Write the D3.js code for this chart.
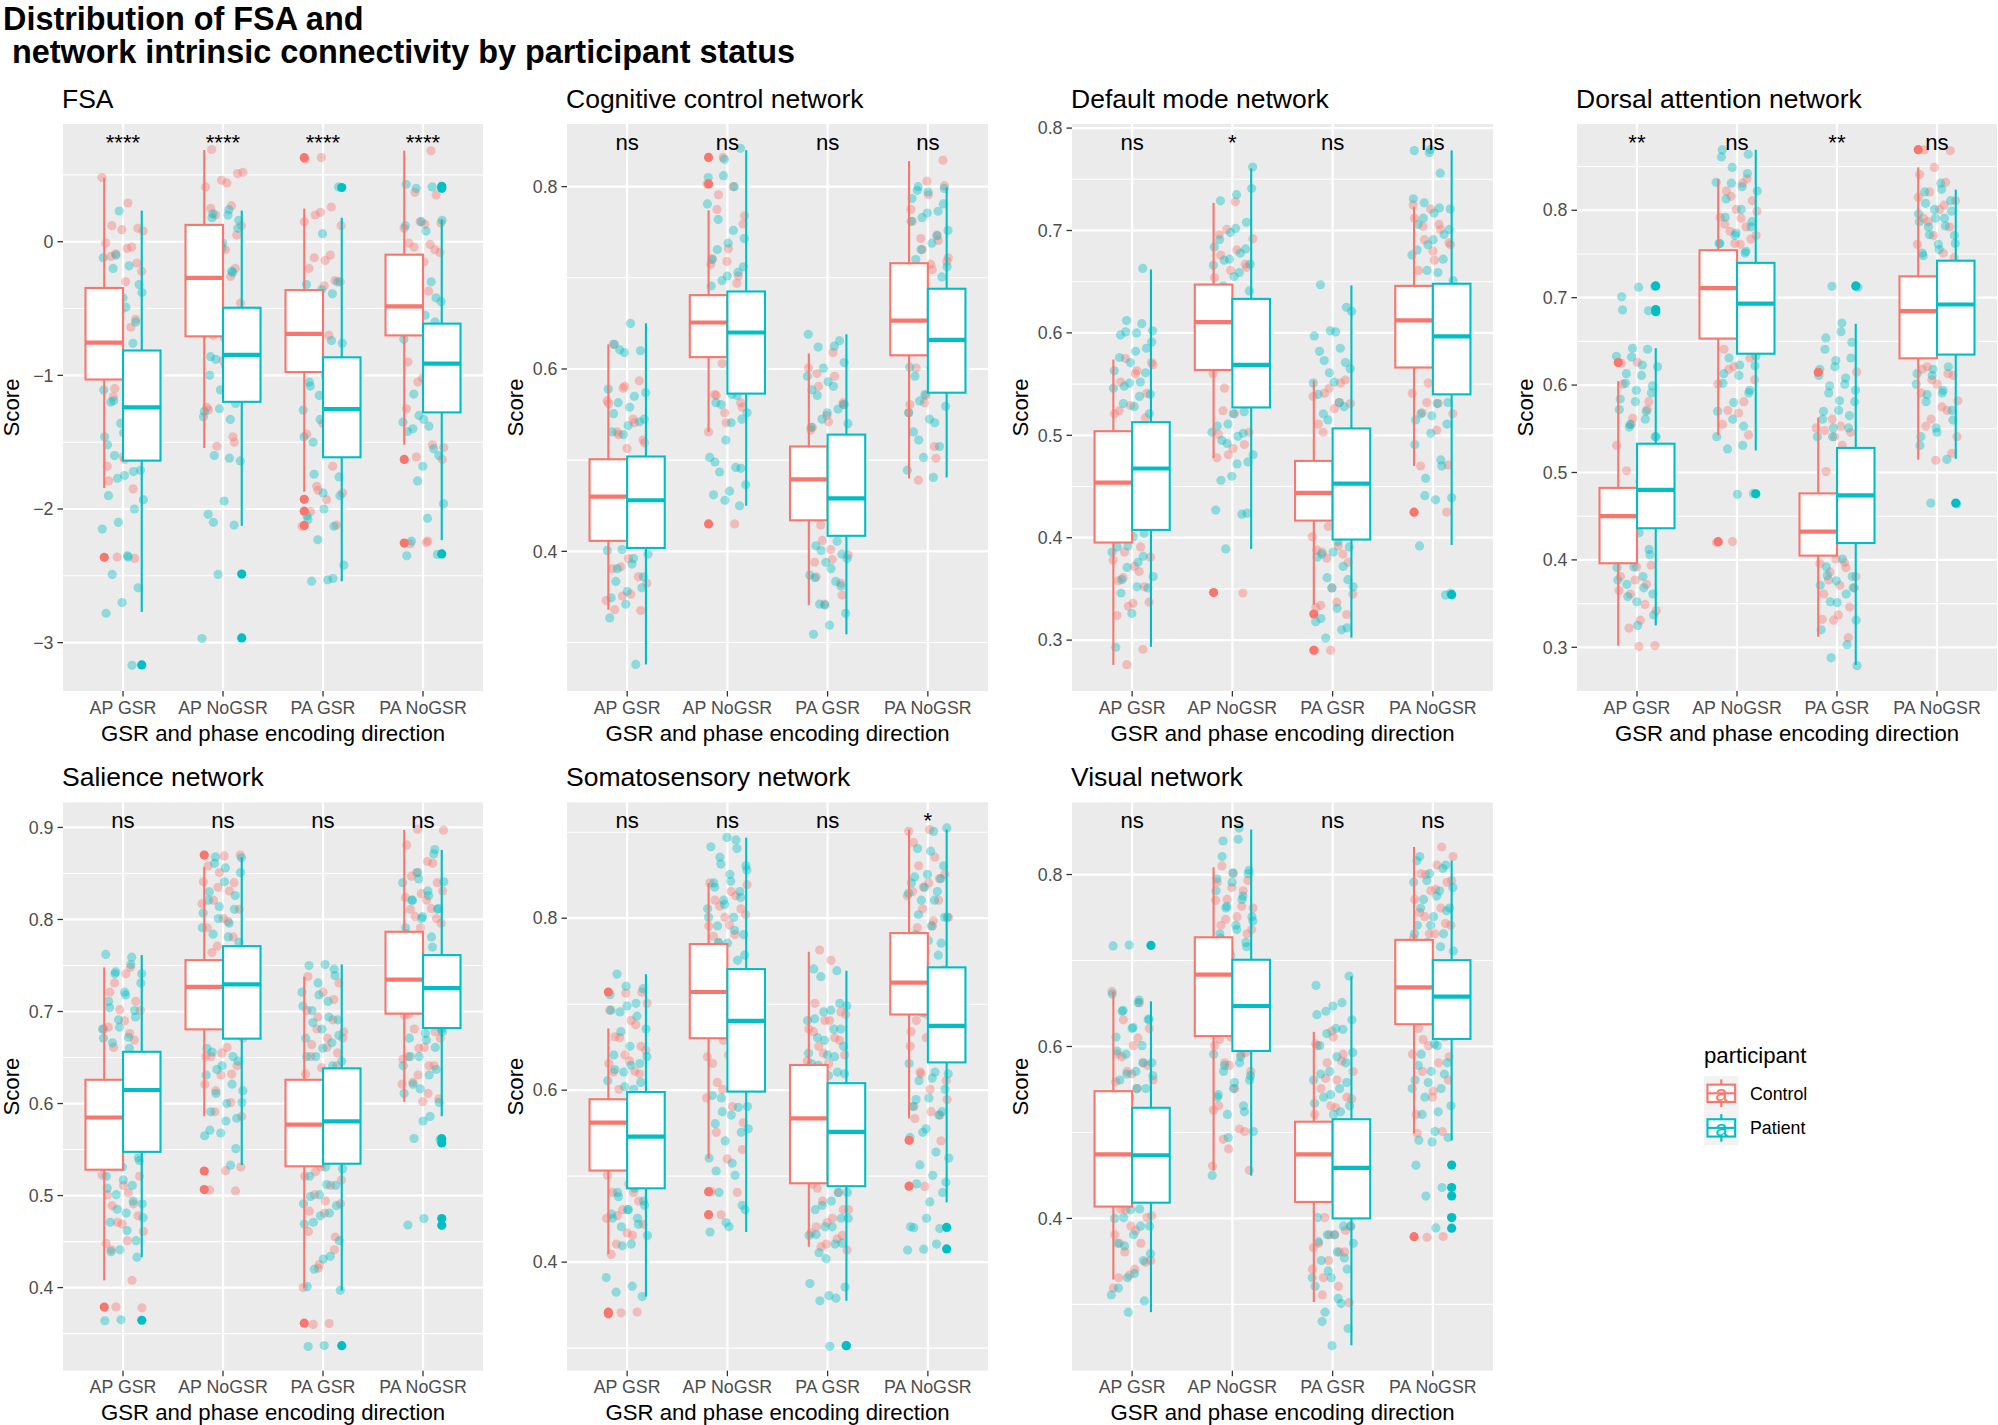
<!DOCTYPE html>
<html><head><meta charset="utf-8">
<script src="https://cdn.jsdelivr.net/npm/d3@7"></script>
<style>
body{margin:0;background:#fff;}
text{font-family:"Liberation Sans",Arial,Helvetica,sans-serif;}
</style>
</head><body>
<script>
// ---------------- DATA ----------------
const categories = ["AP GSR","AP NoGSR","PA GSR","PA NoGSR"];
const participants = ["Control","Patient"];
const participantColors = ["#F8766D","#00BFC4"];
const panelTitles = ["FSA","Cognitive control network","Default mode network","Dorsal attention network","Salience network","Somatosensory network","Visual network"];
const sigLabels = [
  ["****","****","****","****"],
  ["ns","ns","ns","ns"],
  ["ns","*","ns","ns"],
  ["**","ns","**","ns"],
  ["ns","ns","ns","ns"],
  ["ns","ns","ns","*"],
  ["ns","ns","ns","ns"]
];
const yTicks = [
  [-3,-2,-1,0],
  [0.4,0.6,0.8],
  [0.3,0.4,0.5,0.6,0.7,0.8],
  [0.3,0.4,0.5,0.6,0.7,0.8],
  [0.4,0.5,0.6,0.7,0.8,0.9],
  [0.4,0.6,0.8],
  [0.4,0.6,0.8]
];
const yDomains = [
  [-3.362,0.881],[0.2468,0.8687],[0.2503,0.804],[0.25,0.8987],
  [0.3097,0.9272],[0.2737,0.9347],[0.2229,0.8839]
];
const xTitle = "GSR and phase encoding direction";
const yTitle = "Score";
const legendTitle = "participant";
const chartTitle = ["Distribution of FSA and","network intrinsic connectivity by participant status"];

// Box stats: [lower whisker, Q1, median, Q3, upper whisker]
// order: APGSR-Control, APGSR-Patient, APNoGSR-C, APNoGSR-P, PAGSR-C, PAGSR-P, PANoGSR-C, PANoGSR-P
const fsaBox = [[-1.843,-1.031,-0.755,-0.346,0.478],[-2.77,-1.638,-1.239,-0.814,0.233],[-1.544,-0.708,-0.27,0.126,0.686],[-2.126,-1.198,-0.846,-0.494,0.233],[-1.871,-0.975,-0.689,-0.362,0.248],[-2.541,-1.613,-1.252,-0.865,0.179],[-1.519,-0.701,-0.484,-0.097,0.682],[-2.233,-1.277,-0.912,-0.613,0.164]];
const ccnBox = [[0.336,0.4115,0.46,0.501,0.627],[0.276,0.4037,0.456,0.504,0.65],[0.531,0.613,0.651,0.681,0.774],[0.45,0.573,0.64,0.685,0.84],[0.341,0.434,0.479,0.515,0.617],[0.309,0.417,0.458,0.528,0.638],[0.48,0.615,0.653,0.716,0.828],[0.481,0.574,0.632,0.688,0.799]];
const dmnBox = [[0.2758,0.3953,0.4537,0.504,0.574],[0.2934,0.4076,0.4676,0.5128,0.662],[0.478,0.5638,0.6106,0.6472,0.7269],[0.3891,0.5272,0.5687,0.6332,0.7606],[0.3345,0.4167,0.4438,0.475,0.5535],[0.3024,0.3982,0.4528,0.5067,0.6463],[0.4701,0.5662,0.6122,0.6459,0.7232],[0.3928,0.54,0.5966,0.648,0.7782]];
const danBox = [[0.3019,0.3962,0.4501,0.4824,0.6046],[0.325,0.4362,0.48,0.5329,0.6422],[0.5425,0.6532,0.711,0.7543,0.8356],[0.5252,0.6359,0.6932,0.7398,0.8693],[0.312,0.4049,0.4323,0.4761,0.5628],[0.2798,0.4193,0.4737,0.5281,0.6701],[0.5146,0.6306,0.6845,0.7244,0.8491],[0.5156,0.6349,0.6922,0.7423,0.8236]];
const salBox = [[0.4078,0.5281,0.5848,0.6258,0.7479],[0.4332,0.5475,0.6147,0.6562,0.7613],[0.5862,0.6806,0.7267,0.7558,0.8571],[0.5332,0.6705,0.7295,0.771,0.8673],[0.40,0.5318,0.577,0.6258,0.7378],[0.3968,0.5346,0.5807,0.6382,0.7512],[0.6018,0.6977,0.7346,0.7866,0.8972],[0.5862,0.682,0.7253,0.7613,0.8756]];
const smnBox = [[0.4094,0.5065,0.5623,0.5894,0.6718],[0.36,0.4858,0.546,0.5978,0.7349],[0.5203,0.6604,0.7142,0.7699,0.8409],[0.435,0.5983,0.6806,0.7408,0.8937],[0.4178,0.4917,0.5672,0.6293,0.761],[0.3551,0.4883,0.5514,0.6081,0.7388],[0.5672,0.688,0.725,0.7827,0.9031],[0.4695,0.6323,0.6747,0.7428,0.9031]];
const visBox = [[0.329,0.4138,0.4745,0.548,0.6634],[0.291,0.4183,0.4735,0.5287,0.6525],[0.4557,0.6121,0.6836,0.727,0.8084],[0.4498,0.5948,0.6471,0.7009,0.8523],[0.3028,0.4192,0.4745,0.5125,0.617],[0.2525,0.40,0.4587,0.5154,0.6816],[0.4991,0.6259,0.6688,0.724,0.8321],[0.4907,0.6088,0.658,0.7004,0.8163]];

// Outliers (solid points)
const fsaOut = [[-2.362],[-3.167],[],[-2.487,-2.965],[0.629,-1.928,-2.016,-2.123],[0.406],[-1.629,-2.255],[0.415,0.40,-2.336]];
const ccnOut = [[],[],[0.832,0.803,0.43],[],[],[],[],[]];
const dmnOut = [[],[],[0.3464],[],[0.3255,0.2901],[],[0.4249],[0.3444]];
const danOut = [[0.6258],[0.7134,0.6864,0.684],[0.4208],[0.4756],[0.6147],[0.7134],[0.8693],[0.4651]];
const salOut = [[0.3788],[0.3645],[0.87,0.5267,0.5065],[],[0.3613],[0.3369],[],[0.5618,0.5571,0.4751,0.4677]];
const smnOut = [[0.7142,0.3418,0.3398],[],[0.4819,0.4552],[],[],[0.3028],[0.5416,0.4883],[0.4404,0.4153]];
const visOut = [[],[0.7176],[],[],[],[],[0.3788],[0.4621,0.436,0.4261,0.401,0.3887]];

// Individual scores (jittered, semi-transparent)
const fsaPts = [
 [0.48,0.29,0.12,0.1,0.09,-0.01,-0.04,-0.09,-0.22,-0.3,-0.45,-0.58,-0.69,-0.76,-0.9,-1.16,-1.35,-1.61,-1.68,-1.85,-2.36,0.08,-0.05,-0.11,-0.16,-0.52,-0.61,-0.64,-1.1,-1.14,-1.63,-1.79,-2.37],
 [0.23,-0.12,-0.18,-0.2,-0.32,-0.42,-0.58,-0.76,-0.83,-0.95,-1.08,-1.2,-1.26,-1.36,-1.46,-1.5,-1.6,-1.71,-1.75,-1.9,-2.0,-2.1,-2.15,-2.36,-2.49,-2.59,-2.7,-2.78,-3.17,-0.1,-0.38,-0.49,-0.56,-0.6,-0.63,-1.11,-1.16,-1.19,-1.23,-1.43,-1.52,-1.72,-1.77,-1.93,-2.35],
 [0.69,0.51,0.46,0.41,0.27,0.2,0.12,-0.06,-0.07,-0.2,-0.36,-0.42,-0.55,-0.7,-0.76,-0.89,-1.24,-1.46,-1.53,0.52,0.44,0.25,0.05,-0.02,-0.1,-0.26,-0.4,-0.46,-0.72,-1.26,-1.5],
 [0.24,0.21,0.16,-0.01,-0.14,-0.23,-0.39,-0.6,-0.73,-0.86,-0.95,-1.11,-1.27,-1.33,-1.6,-1.64,-1.94,-2.04,-2.12,-2.49,-2.97,0.2,0.18,0.1,-0.05,-0.19,-0.22,-0.88,-0.9,-0.93,-1.0,-1.21,-1.25,-1.31,-1.62,-2.1],
 [0.63,0.62,0.26,0.2,0.12,-0.14,-0.2,-0.29,-0.42,-0.55,-0.7,-0.8,-1.0,-1.36,-1.44,-1.68,-1.83,-1.88,-1.93,-2.02,-2.12,0.22,0.15,-0.1,-0.12,-0.3,-0.33,-0.45,-1.42,-1.86,-2.13],
 [0.41,0.06,-0.32,-0.39,-0.61,-0.76,-0.95,-1.08,-1.2,-1.33,-1.46,-1.55,-1.74,-1.9,-2.0,-2.08,-2.13,-2.23,-2.42,-2.53,-2.54,-0.3,-0.36,-0.41,-0.74,-0.8,-0.9,-1.0,-1.05,-1.1,-1.15,-1.26,-1.45,-1.5,-1.76,-1.88,-2.05,-2.52],
 [0.68,0.37,0.14,0.13,-0.01,-0.06,-0.12,-0.23,-0.37,-0.5,-0.91,-1.02,-1.25,-1.52,-1.61,-1.63,-2.25,-2.26,0.35,0.15,0.1,-0.02,-0.04,-0.08,-0.15,-0.9,-1.0,-1.05,-1.54,-2.24],
 [0.43,0.41,0.4,0.16,0.08,-0.29,-0.42,-0.64,-0.73,-0.83,-1.14,-1.2,-1.33,-1.42,-1.55,-1.79,-1.96,-2.07,-2.24,-2.34,0.15,0.12,-0.3,-0.35,-0.45,-0.55,-0.58,-0.6,-1.3,-1.35,-1.38,-1.4,-1.6,-1.68,-2.35]
];
const ccnPts = [
 [0.627,0.587,0.579,0.565,0.545,0.531,0.522,0.513,0.47,0.434,0.383,0.365,0.353,0.336,0.335,0.581,0.562,0.541,0.528,0.519,0.392,0.381,0.372,0.351,0.346],
 [0.65,0.627,0.62,0.618,0.578,0.57,0.563,0.545,0.538,0.531,0.5,0.402,0.397,0.386,0.367,0.36,0.342,0.327,0.276,0.621,0.574,0.558,0.551,0.542,0.528,0.401,0.392,0.381,0.372,0.356,0.349],
 [0.832,0.803,0.8,0.775,0.759,0.718,0.715,0.694,0.66,0.609,0.595,0.572,0.563,0.552,0.531,0.43,0.791,0.768,0.732,0.721,0.702,0.606,0.601,0.585,0.571,0.558,0.541],
 [0.842,0.83,0.81,0.8,0.764,0.743,0.738,0.72,0.706,0.697,0.62,0.572,0.563,0.545,0.522,0.503,0.492,0.487,0.473,0.466,0.462,0.45,0.812,0.781,0.752,0.731,0.712,0.702,0.691,0.571,0.561,0.552,0.541,0.498,0.491,0.456],
 [0.618,0.595,0.563,0.549,0.533,0.48,0.429,0.425,0.402,0.388,0.365,0.342,0.601,0.592,0.581,0.561,0.542,0.536,0.421,0.412,0.396,0.391,0.372,0.352],
 [0.638,0.625,0.624,0.607,0.586,0.577,0.556,0.545,0.54,0.47,0.406,0.397,0.388,0.374,0.367,0.342,0.332,0.319,0.309,0.631,0.601,0.592,0.581,0.571,0.561,0.552,0.536,0.411,0.401,0.392,0.381,0.371,0.362,0.341],
 [0.829,0.806,0.775,0.747,0.743,0.718,0.715,0.68,0.614,0.563,0.552,0.515,0.478,0.801,0.791,0.762,0.741,0.731,0.722,0.709,0.601,0.592,0.571,0.561,0.502],
 [0.8,0.798,0.794,0.787,0.773,0.766,0.752,0.738,0.72,0.701,0.65,0.602,0.595,0.565,0.559,0.545,0.531,0.515,0.503,0.489,0.481,0.796,0.781,0.771,0.762,0.746,0.731,0.712,0.601,0.592,0.581,0.572,0.552,0.541,0.522]
];
const dmnPts = [
 [0.575,0.571,0.56,0.524,0.517,0.45,0.378,0.367,0.361,0.337,0.336,0.324,0.291,0.276,0.569,0.563,0.552,0.541,0.529,0.521,0.391,0.386,0.381,0.372,0.358,0.352,0.333],
 [0.663,0.612,0.602,0.6,0.598,0.585,0.571,0.563,0.552,0.548,0.54,0.528,0.46,0.404,0.392,0.386,0.376,0.359,0.351,0.326,0.293,0.609,0.601,0.591,0.582,0.576,0.561,0.551,0.546,0.538,0.531,0.521,0.401,0.391,0.382,0.371,0.362,0.352,0.346],
 [0.728,0.696,0.667,0.62,0.56,0.54,0.524,0.503,0.487,0.478,0.346,0.701,0.692,0.681,0.676,0.664,0.661,0.654,0.551,0.546,0.531,0.521,0.501,0.491,0.481],
 [0.762,0.735,0.729,0.708,0.698,0.684,0.678,0.671,0.667,0.655,0.6,0.523,0.511,0.503,0.499,0.495,0.474,0.46,0.427,0.423,0.389,0.741,0.702,0.691,0.682,0.672,0.666,0.659,0.646,0.641,0.521,0.509,0.502,0.492,0.481,0.472,0.456,0.424],
 [0.554,0.546,0.538,0.532,0.503,0.487,0.44,0.388,0.384,0.38,0.345,0.337,0.334,0.325,0.29,0.29,0.551,0.541,0.531,0.526,0.511,0.501,0.411,0.401,0.392,0.386,0.376,0.351,0.332],
 [0.647,0.625,0.602,0.597,0.585,0.573,0.565,0.552,0.54,0.528,0.515,0.45,0.396,0.384,0.359,0.351,0.318,0.31,0.302,0.621,0.601,0.582,0.571,0.561,0.551,0.532,0.521,0.391,0.386,0.381,0.372,0.361,0.352,0.331,0.321,0.312],
 [0.725,0.706,0.704,0.688,0.68,0.6,0.548,0.532,0.521,0.505,0.47,0.425,0.721,0.712,0.701,0.691,0.686,0.671,0.661,0.561,0.551,0.541,0.531,0.522,0.471],
 [0.779,0.778,0.756,0.727,0.721,0.717,0.706,0.696,0.686,0.676,0.659,0.6,0.532,0.519,0.515,0.47,0.458,0.439,0.437,0.392,0.344,0.776,0.731,0.722,0.712,0.701,0.691,0.681,0.672,0.661,0.651,0.531,0.521,0.511,0.502,0.491,0.476,0.441,0.346]
];
const danPts = [
 [0.626,0.625,0.572,0.555,0.517,0.45,0.406,0.394,0.377,0.365,0.349,0.322,0.302,0.301,0.601,0.581,0.562,0.531,0.521,0.502,0.491,0.392,0.381,0.372,0.361,0.342,0.331],
 [0.713,0.712,0.686,0.685,0.642,0.633,0.623,0.613,0.599,0.594,0.584,0.57,0.555,0.541,0.49,0.421,0.406,0.392,0.377,0.368,0.358,0.337,0.325,0.701,0.641,0.632,0.621,0.611,0.602,0.591,0.581,0.572,0.561,0.552,0.541,0.431,0.421,0.412,0.401,0.391,0.381,0.372,0.361,0.352],
 [0.836,0.816,0.799,0.791,0.784,0.767,0.762,0.7,0.647,0.618,0.606,0.568,0.555,0.543,0.421,0.42,0.831,0.822,0.811,0.801,0.792,0.781,0.776,0.771,0.761,0.641,0.631,0.621,0.601,0.581,0.571],
 [0.869,0.864,0.849,0.832,0.827,0.813,0.787,0.774,0.762,0.753,0.69,0.633,0.623,0.613,0.594,0.58,0.57,0.553,0.527,0.476,0.475,0.861,0.842,0.831,0.822,0.801,0.792,0.781,0.771,0.762,0.751,0.631,0.622,0.611,0.602,0.591,0.561,0.541,0.531],
 [0.615,0.553,0.548,0.546,0.541,0.45,0.397,0.377,0.368,0.337,0.332,0.311,0.561,0.551,0.531,0.501,0.491,0.401,0.396,0.391,0.386,0.381,0.371,0.361,0.346,0.331],
 [0.713,0.712,0.671,0.654,0.649,0.628,0.618,0.608,0.599,0.594,0.582,0.57,0.565,0.551,0.541,0.47,0.382,0.368,0.351,0.32,0.303,0.288,0.279,0.661,0.641,0.631,0.621,0.611,0.601,0.591,0.581,0.571,0.561,0.551,0.541,0.411,0.401,0.392,0.381,0.376,0.371,0.361,0.352,0.331],
 [0.869,0.868,0.849,0.815,0.806,0.787,0.746,0.68,0.618,0.613,0.606,0.582,0.575,0.553,0.522,0.514,0.841,0.832,0.821,0.811,0.801,0.791,0.781,0.771,0.761,0.751,0.621,0.611,0.601,0.591,0.571,0.561,0.541],
 [0.824,0.808,0.799,0.791,0.787,0.782,0.772,0.762,0.755,0.748,0.69,0.618,0.613,0.594,0.589,0.56,0.546,0.541,0.515,0.465,0.464,0.831,0.821,0.811,0.801,0.796,0.791,0.781,0.771,0.761,0.751,0.621,0.611,0.601,0.591,0.581,0.571,0.551,0.531]
];
const salPts = [
 [0.748,0.731,0.701,0.69,0.683,0.669,0.6,0.522,0.503,0.489,0.478,0.469,0.448,0.408,0.379,0.378,0.741,0.721,0.711,0.702,0.681,0.676,0.661,0.521,0.511,0.501,0.491,0.471,0.461,0.451,0.441],
 [0.762,0.759,0.743,0.741,0.718,0.704,0.694,0.683,0.671,0.66,0.6,0.538,0.517,0.508,0.494,0.485,0.476,0.462,0.439,0.433,0.365,0.364,0.751,0.741,0.731,0.721,0.711,0.701,0.691,0.681,0.672,0.666,0.541,0.531,0.521,0.511,0.501,0.491,0.481,0.471,0.451,0.441],
 [0.87,0.869,0.858,0.84,0.835,0.817,0.798,0.764,0.7,0.655,0.651,0.632,0.614,0.586,0.527,0.506,0.505,0.851,0.841,0.831,0.821,0.811,0.801,0.791,0.781,0.771,0.671,0.661,0.651,0.641,0.631,0.621,0.601,0.591,0.531],
 [0.868,0.867,0.856,0.83,0.826,0.814,0.807,0.796,0.784,0.775,0.7,0.66,0.651,0.637,0.614,0.6,0.591,0.584,0.568,0.565,0.533,0.861,0.851,0.841,0.821,0.811,0.801,0.791,0.781,0.656,0.646,0.641,0.631,0.621,0.611,0.601,0.581,0.571,0.551],
 [0.738,0.713,0.694,0.678,0.671,0.664,0.655,0.639,0.632,0.58,0.526,0.517,0.494,0.483,0.455,0.425,0.4,0.361,0.36,0.731,0.721,0.701,0.691,0.681,0.671,0.661,0.651,0.641,0.531,0.521,0.511,0.501,0.491,0.481,0.461,0.441,0.421],
 [0.751,0.75,0.739,0.718,0.706,0.694,0.688,0.674,0.66,0.651,0.641,0.58,0.529,0.512,0.499,0.489,0.478,0.469,0.434,0.42,0.397,0.337,0.336,0.746,0.731,0.721,0.711,0.701,0.691,0.681,0.671,0.666,0.651,0.646,0.531,0.521,0.511,0.501,0.491,0.481,0.471,0.451,0.431,0.401],
 [0.898,0.897,0.863,0.847,0.84,0.828,0.824,0.812,0.803,0.796,0.74,0.697,0.678,0.66,0.648,0.641,0.623,0.605,0.602,0.881,0.861,0.851,0.831,0.821,0.811,0.801,0.791,0.696,0.691,0.681,0.671,0.661,0.651,0.641,0.631,0.621,0.611],
 [0.876,0.844,0.84,0.826,0.821,0.812,0.803,0.784,0.77,0.72,0.678,0.669,0.651,0.637,0.616,0.611,0.586,0.562,0.561,0.475,0.468,0.871,0.851,0.841,0.831,0.821,0.811,0.801,0.791,0.781,0.771,0.681,0.676,0.671,0.661,0.651,0.641,0.631,0.621,0.601,0.581]
];
const smnPts = [
 [0.714,0.713,0.693,0.676,0.661,0.646,0.634,0.621,0.619,0.56,0.501,0.481,0.454,0.444,0.434,0.409,0.342,0.341,0.701,0.681,0.662,0.651,0.641,0.631,0.622,0.601,0.502,0.491,0.481,0.471,0.461,0.451,0.431,0.421],
 [0.735,0.718,0.698,0.693,0.686,0.668,0.639,0.629,0.624,0.609,0.604,0.55,0.486,0.476,0.466,0.461,0.451,0.444,0.419,0.382,0.372,0.365,0.36,0.721,0.711,0.701,0.691,0.671,0.651,0.641,0.631,0.621,0.611,0.601,0.481,0.471,0.461,0.456,0.451,0.441,0.431,0.421],
 [0.841,0.826,0.814,0.804,0.792,0.779,0.72,0.658,0.639,0.621,0.609,0.562,0.52,0.482,0.481,0.455,0.839,0.831,0.821,0.811,0.801,0.791,0.781,0.771,0.651,0.641,0.631,0.621,0.601,0.591,0.581,0.551,0.531],
 [0.894,0.883,0.881,0.863,0.856,0.843,0.836,0.824,0.816,0.801,0.786,0.772,0.757,0.68,0.594,0.58,0.575,0.555,0.515,0.506,0.466,0.446,0.435,0.891,0.871,0.861,0.851,0.841,0.831,0.821,0.811,0.801,0.791,0.781,0.771,0.761,0.751,0.591,0.581,0.571,0.561,0.551,0.541,0.521,0.501,0.481,0.461,0.441],
 [0.763,0.688,0.681,0.668,0.658,0.643,0.634,0.57,0.486,0.461,0.446,0.434,0.427,0.418,0.414,0.751,0.701,0.691,0.681,0.671,0.661,0.651,0.641,0.631,0.491,0.481,0.471,0.461,0.451,0.441,0.431,0.421],
 [0.739,0.732,0.698,0.693,0.683,0.671,0.658,0.643,0.639,0.629,0.619,0.617,0.55,0.481,0.466,0.451,0.441,0.432,0.422,0.404,0.375,0.358,0.355,0.303,0.302,0.741,0.701,0.691,0.681,0.671,0.661,0.651,0.641,0.631,0.621,0.611,0.481,0.471,0.461,0.451,0.441,0.431,0.421,0.411,0.371,0.361],
 [0.903,0.888,0.846,0.836,0.826,0.797,0.789,0.74,0.688,0.668,0.639,0.619,0.589,0.575,0.567,0.541,0.488,0.901,0.871,0.861,0.851,0.841,0.831,0.821,0.811,0.801,0.791,0.681,0.671,0.661,0.651,0.641,0.621,0.611,0.601,0.581,0.571],
 [0.905,0.878,0.848,0.846,0.836,0.829,0.821,0.804,0.801,0.774,0.764,0.757,0.69,0.619,0.614,0.589,0.575,0.555,0.545,0.528,0.513,0.493,0.47,0.44,0.439,0.415,0.414,0.901,0.881,0.861,0.851,0.841,0.831,0.821,0.801,0.791,0.781,0.771,0.761,0.631,0.621,0.611,0.601,0.591,0.581,0.571,0.551,0.521,0.501,0.491,0.481,0.451,0.441,0.421]
];
const visPts = [
 [0.664,0.61,0.588,0.578,0.568,0.559,0.48,0.41,0.403,0.386,0.371,0.349,0.334,0.319,0.651,0.631,0.621,0.601,0.591,0.581,0.571,0.561,0.551,0.411,0.401,0.391,0.381,0.371,0.361,0.351,0.341,0.331],
 [0.718,0.717,0.654,0.642,0.632,0.622,0.595,0.581,0.568,0.566,0.551,0.539,0.47,0.41,0.4,0.391,0.368,0.359,0.336,0.319,0.304,0.291,0.661,0.651,0.641,0.631,0.621,0.611,0.601,0.591,0.581,0.571,0.561,0.551,0.541,0.531,0.411,0.401,0.391,0.381,0.371,0.351,0.331,0.311],
 [0.81,0.793,0.785,0.77,0.763,0.748,0.736,0.68,0.608,0.593,0.578,0.526,0.504,0.492,0.456,0.801,0.791,0.781,0.771,0.761,0.751,0.741,0.731,0.611,0.601,0.591,0.581,0.571,0.551,0.531,0.501,0.481,0.461],
 [0.854,0.839,0.805,0.802,0.795,0.775,0.763,0.746,0.736,0.726,0.716,0.706,0.65,0.588,0.578,0.566,0.558,0.544,0.524,0.494,0.45,0.841,0.821,0.801,0.791,0.781,0.771,0.761,0.751,0.741,0.731,0.721,0.711,0.591,0.581,0.571,0.561,0.551,0.541,0.531,0.521,0.501],
 [0.618,0.603,0.583,0.563,0.539,0.529,0.47,0.386,0.381,0.366,0.361,0.331,0.302,0.611,0.601,0.591,0.581,0.571,0.561,0.551,0.541,0.531,0.521,0.411,0.401,0.391,0.381,0.371,0.361,0.351,0.341,0.321,0.311],
 [0.682,0.647,0.637,0.62,0.615,0.593,0.588,0.568,0.558,0.544,0.534,0.524,0.46,0.391,0.381,0.373,0.354,0.339,0.331,0.307,0.28,0.272,0.252,0.671,0.651,0.641,0.631,0.621,0.601,0.581,0.571,0.561,0.551,0.541,0.531,0.521,0.401,0.391,0.381,0.371,0.361,0.351,0.341,0.331,0.321,0.301,0.291],
 [0.832,0.8,0.793,0.783,0.756,0.743,0.731,0.726,0.67,0.608,0.588,0.548,0.499,0.379,0.378,0.821,0.811,0.801,0.791,0.781,0.771,0.761,0.751,0.741,0.731,0.621,0.611,0.601,0.591,0.581,0.571,0.561,0.541,0.521,0.501],
 [0.816,0.807,0.793,0.785,0.775,0.761,0.758,0.741,0.731,0.716,0.701,0.66,0.603,0.578,0.568,0.558,0.551,0.524,0.521,0.494,0.489,0.462,0.436,0.426,0.401,0.389,0.821,0.811,0.801,0.791,0.781,0.771,0.761,0.751,0.741,0.731,0.721,0.711,0.601,0.591,0.581,0.571,0.561,0.551,0.541,0.531,0.501,0.491]
];

// ---------------- DRAWING ----------------
const boxSets = [fsaBox,ccnBox,dmnBox,danBox,salBox,smnBox,visBox];
const outSets = [fsaOut,ccnOut,dmnOut,danOut,salOut,smnOut,visOut];
const ptSets = [fsaPts,ccnPts,dmnPts,danPts,salPts,smnPts,visPts];

const W = 1998, H = 1425;
const svg = d3.select("body").append("svg").attr("width", W).attr("height", H);
svg.append("rect").attr("width", W).attr("height", H).attr("fill", "#ffffff");

const colX = [[63,483],[567,988],[1072,1493],[1577,1997]];
const rowY = [[124,691],[802.4,1370.7]];
const frames = panelTitles.map((t,i)=>{
  const c = colX[i % 4], r = rowY[Math.floor(i/4)];
  return {x0:c[0], x1:c[1], y0:r[0], y1:r[1]};
});

const FS_TICK = 17.8, FS_TITLE = 22.2, FS_STRIP = 26.5;

panelTitles.forEach((title, pi) => {
  const f = frames[pi];
  const g = svg.append("g");
  const x = d3.scalePoint().domain(categories).range([f.x0, f.x1]).padding(0.6);
  const step = x.step();
  const y = d3.scaleLinear().domain(yDomains[pi]).range([f.y1, f.y0]);
  const ticks = yTicks[pi];
  const d = ticks[1] - ticks[0];
  const [dmin, dmax] = yDomains[pi];
  const minors = ticks.map(t => t - d/2).concat([ticks[ticks.length-1] + d/2])
                      .filter(v => v >= dmin && v <= dmax);

  g.append("rect").attr("x", f.x0).attr("y", f.y0)
    .attr("width", f.x1 - f.x0).attr("height", f.y1 - f.y0).attr("fill", "#EBEBEB");

  g.selectAll(".minor").data(minors).join("line")
    .attr("x1", f.x0).attr("x2", f.x1).attr("y1", v => y(v)).attr("y2", v => y(v))
    .attr("stroke", "#fff").attr("stroke-width", 1.1);
  g.selectAll(".major").data(ticks).join("line")
    .attr("x1", f.x0).attr("x2", f.x1).attr("y1", v => y(v)).attr("y2", v => y(v))
    .attr("stroke", "#fff").attr("stroke-width", 2.2);
  g.selectAll(".vmajor").data(categories).join("line")
    .attr("x1", c => x(c)).attr("x2", c => x(c)).attr("y1", f.y0).attr("y2", f.y1)
    .attr("stroke", "#fff").attr("stroke-width", 2.2);

  // jittered points
  const pts = [];
  categories.forEach((c, ci) => {
    participants.forEach((p, pp) => {
      ptSets[pi][ci*2 + pp].forEach((v, i) => {
        const u = ((i * 0.6180339887 + pp * 0.41 + ci * 0.23 + pi * 0.17) % 1) - 0.5;
        pts.push({cx: x(c) + u * 0.42 * step, v, pp});
      });
    });
  });
  g.selectAll(".pt").data(pts).join("circle")
    .attr("cx", d => d.cx).attr("cy", d => y(d.v)).attr("r", 4.6)
    .attr("fill", d => participantColors[d.pp]).attr("fill-opacity", 0.4);

  // boxplots
  const bw = 0.375 * step;
  categories.forEach((c, ci) => {
    participants.forEach((p, pp) => {
      const s = boxSets[pi][ci*2 + pp];
      const col = participantColors[pp];
      const cx = x(c) + (pp === 0 ? -1 : 1) * 0.1875 * step;
      const bg = g.append("g");
      bg.append("line").attr("x1", cx).attr("x2", cx).attr("y1", y(s[0])).attr("y2", y(s[1]))
        .attr("stroke", col).attr("stroke-width", 2.1);
      bg.append("line").attr("x1", cx).attr("x2", cx).attr("y1", y(s[3])).attr("y2", y(s[4]))
        .attr("stroke", col).attr("stroke-width", 2.1);
      bg.append("rect").attr("x", cx - bw/2).attr("y", y(s[3]))
        .attr("width", bw).attr("height", y(s[1]) - y(s[3]))
        .attr("fill", "#fff").attr("stroke", col).attr("stroke-width", 2.1);
      bg.append("line").attr("x1", cx - bw/2).attr("x2", cx + bw/2).attr("y1", y(s[2])).attr("y2", y(s[2]))
        .attr("stroke", col).attr("stroke-width", 4.2);
      bg.selectAll("circle").data(outSets[pi][ci*2 + pp]).join("circle")
        .attr("cx", cx).attr("cy", v => y(v)).attr("r", 4.6).attr("fill", col);
    });
  });

  // significance labels
  g.selectAll(".sig").data(categories).join("text")
    .attr("x", c => x(c)).attr("y", f.y0 + 26).attr("text-anchor", "middle")
    .attr("font-size", FS_TITLE).attr("fill", "#000")
    .text((c, ci) => sigLabels[pi][ci]);

  // y axis
  const fmt = pi === 0 ? d3.format(".0f") : d3.format(".1f");
  g.selectAll(".yt").data(ticks).join("line")
    .attr("x1", f.x0 - 5.5).attr("x2", f.x0).attr("y1", v => y(v)).attr("y2", v => y(v))
    .attr("stroke", "#333").attr("stroke-width", 1.3);
  g.selectAll(".yl").data(ticks).join("text")
    .attr("x", f.x0 - 9.5).attr("y", v => y(v)).attr("dy", "0.35em")
    .attr("text-anchor", "end").attr("font-size", FS_TICK).attr("fill", "#4D4D4D")
    .text(v => fmt(v));
  // x axis
  g.selectAll(".xt").data(categories).join("line")
    .attr("x1", c => x(c)).attr("x2", c => x(c)).attr("y1", f.y1).attr("y2", f.y1 + 5.5)
    .attr("stroke", "#333").attr("stroke-width", 1.3);
  g.selectAll(".xl").data(categories).join("text")
    .attr("x", c => x(c)).attr("y", f.y1 + 22.5).attr("text-anchor", "middle")
    .attr("font-size", FS_TICK).attr("fill", "#4D4D4D").text(c => c);

  // titles
  g.append("text").attr("x", (f.x0 + f.x1)/2).attr("y", f.y1 + 49.5)
    .attr("text-anchor", "middle").attr("font-size", FS_TITLE).attr("fill", "#000").text(xTitle);
  g.append("text").attr("transform", `translate(${f.x0 - 44},${(f.y0 + f.y1)/2}) rotate(-90)`)
    .attr("text-anchor", "middle").attr("font-size", FS_TITLE).attr("fill", "#000").text(yTitle);
  g.append("text").attr("x", f.x0 - 1).attr("y", f.y0 - 16.5)
    .attr("font-size", FS_STRIP).attr("fill", "#000").text(title);
});

// main title (one text element, two lines)
const tt = svg.append("text").attr("font-size", 32.4).attr("font-weight", "bold").attr("fill", "#000");
tt.append("tspan").attr("x", 3).attr("y", 29.5).text(chartTitle[0]);
tt.append("tspan").attr("x", 12).attr("y", 63).text(chartTitle[1]);

// legend
const lg = svg.append("g");
lg.append("text").attr("x", 1704).attr("y", 1063).attr("font-size", FS_TITLE).attr("fill", "#000").text(legendTitle);
const ks = 34.6, kx = 1704, ky = 1076;
participants.forEach((p, i) => {
  const col = participantColors[i];
  const y0 = ky + i * ks;
  lg.append("rect").attr("x", kx).attr("y", y0).attr("width", ks).attr("height", ks).attr("fill", "#F2F2F2");
  lg.append("line").attr("x1", kx + ks/2).attr("x2", kx + ks/2).attr("y1", y0 + ks*0.1).attr("y2", y0 + ks*0.25)
    .attr("stroke", col).attr("stroke-width", 2.1);
  lg.append("line").attr("x1", kx + ks/2).attr("x2", kx + ks/2).attr("y1", y0 + ks*0.75).attr("y2", y0 + ks*0.9)
    .attr("stroke", col).attr("stroke-width", 2.1);
  lg.append("rect").attr("x", kx + ks*0.1).attr("y", y0 + ks*0.25).attr("width", ks*0.8).attr("height", ks*0.5)
    .attr("fill", "#fff").attr("stroke", col).attr("stroke-width", 2.1);
  lg.append("line").attr("x1", kx + ks*0.1).attr("x2", kx + ks*0.9).attr("y1", y0 + ks/2).attr("y2", y0 + ks/2)
    .attr("stroke", col).attr("stroke-width", 2.1);
  lg.append("text").attr("x", kx + ks/2).attr("y", y0 + ks/2).attr("dy", "0.35em").attr("text-anchor", "middle")
    .attr("font-size", FS_TITLE).attr("fill", col).text("a");
  lg.append("text").attr("x", 1750).attr("y", y0 + ks/2).attr("dy", "0.35em")
    .attr("font-size", FS_TICK).attr("fill", "#000").text(p);
});
</script>
</body></html>
